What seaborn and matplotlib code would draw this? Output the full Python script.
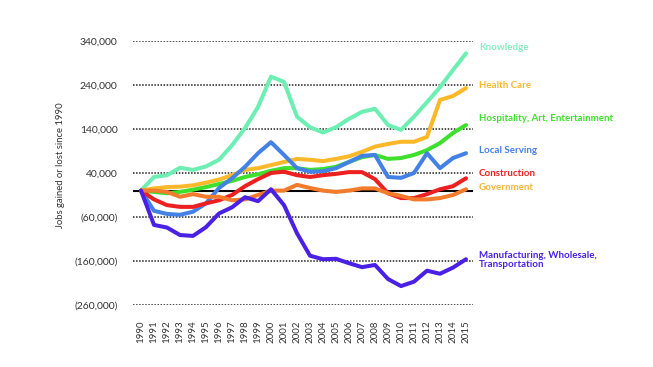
import matplotlib
matplotlib.use("Agg")
import matplotlib.pyplot as plt
import seaborn as sns
import pandas as pd

years = list(range(1990, 2016))

knowledge = [0, 31000, 35000, 52000, 47000, 55000, 70000, 103000, 142000, 190000,
             259000, 247000, 168000, 144000, 132000, 144000, 163000, 179000, 186000, 149000,
             138000, 168000, 201000, 235000, 274000, 312000]
health_care = [0, 5000, 8000, 9000, 12000, 18000, 25000, 35000, 47000, 51000,
               58000, 65000, 72000, 70000, 67000, 72000, 78000, 88000, 100000, 106000,
               111000, 111000, 122000, 206000, 215000, 233000]
hospitality = [0, -3000, -6000, -3000, 2000, 8000, 15000, 22000, 31000, 37000,
               45000, 51000, 51000, 47000, 49000, 54000, 65000, 76000, 81000, 72000,
               74000, 81000, 92000, 108000, 131000, 149000]
local_serving = [0, -46000, -53000, -55000, -48000, -29000, 6000, 28000, 54000, 85000,
                 110000, 81000, 51000, 43000, 44000, 51000, 65000, 79000, 81000, 31000,
                 29000, 40000, 85000, 51000, 74000, 85000]
construction = [0, -20000, -33000, -37000, -37000, -29000, -22000, -10000, 10000, 26000,
                40000, 43000, 35000, 31000, 35000, 38000, 42000, 42000, 26000, -6000,
                -17000, -17000, -8000, 3000, 10000, 28000]
government = [0, 0, -3000, -14000, -8000, -14000, -14000, -22000, -20000, -10000,
              0, 0, 13000, 6000, 0, -3000, 0, 5000, 5000, -6000,
              -12000, -20000, -20000, -17000, -10000, 3000]
manufacturing = [0, -78000, -84000, -101000, -103000, -83000, -52000, -38000, -15000, -24000,
                 3000, -33000, -97000, -148000, -156000, -155000, -165000, -174000, -169000, -201000,
                 -217000, -207000, -182000, -189000, -175000, -156000]

series = {
    "Knowledge": knowledge,
    "Health Care": health_care,
    "Hospitality, Art, Entertainment": hospitality,
    "Local Serving": local_serving,
    "Construction": construction,
    "Government": government,
    "Manufacturing, Wholesale,\nTransportation": manufacturing,
}

line_colors = {
    "Knowledge": "#6DEFB3",
    "Health Care": "#FBB829",
    "Hospitality, Art, Entertainment": "#3EE02D",
    "Local Serving": "#4381E6",
    "Construction": "#EC2021",
    "Government": "#F27B2C",
    "Manufacturing, Wholesale,\nTransportation": "#4A20E4",
}
label_colors = dict(line_colors)
label_colors["Government"] = "#F6B63A"
label_colors["Knowledge"] = "#80F0C0"

# label vertical placement (data units)
label_y = {
    "Knowledge": 326000,
    "Health Care": 238000,
    "Hospitality, Art, Entertainment": 163000,
    "Local Serving": 90000,
    "Construction": 38000,
    "Government": 6000,
    "Manufacturing, Wholesale,\nTransportation": -158000,
}

ytick_vals = [340000, 240000, 140000, 40000, -60000, -160000, -260000]
ytick_labels = ["340,000", "240,000", "140,000", "40,000", "(60,000)", "(160,000)", "(260,000)"]

rows = []
for name, vals in series.items():
    for yr, v in zip(years, vals):
        rows.append({"year": yr, "jobs": v, "sector": name})
df = pd.DataFrame(rows)

sns.set_theme(style="white")
plt.rcParams["font.family"] = ["Lato", "DejaVu Sans"]

fig = plt.figure(figsize=(6.53, 3.67), dpi=100)
ax = fig.add_axes([133 / 653, 1 - 305 / 367, 340 / 653, 264 / 367])

for yv in ytick_vals:
    ax.axhline(yv, color="#222222", lw=1.1, ls=(0, (1, 1)), zorder=1)
ax.axhline(0, color="black", lw=1.5, zorder=1)

sns.lineplot(data=df, x="year", y="jobs", hue="sector", palette=line_colors,
             linewidth=2.9, legend=False, ax=ax, zorder=3)

ax.set_xlim(1990 - 8 / 13, 2015 + 7 / 13)
ax.set_ylim(-260000, 340000)
ax.set_yticks(ytick_vals)
ax.set_yticklabels(ytick_labels)
ax.set_xticks(years)
ax.set_xticklabels([str(y) for y in years], rotation=90)
ax.tick_params(axis="y", length=0, pad=11, labelsize=7.5, labelcolor="#333333")
ax.tick_params(axis="x", length=0, pad=11, labelsize=7, labelcolor="#333333")
ax.set_xlabel("")
ax.set_ylabel("Jobs gained or lost since 1990", fontsize=6.8, color="#333333")
ax.yaxis.set_label_coords(-0.2, 0.53)
for s in ax.spines.values():
    s.set_visible(False)
ax.grid(False)

for name, yv in label_y.items():
    ax.text(2016.0, yv, name, color=label_colors[name], fontsize=7,
            fontweight="bold", va="center", ha="left", clip_on=False,
            linespacing=1.1)

fig.savefig("out.png", dpi=100)
